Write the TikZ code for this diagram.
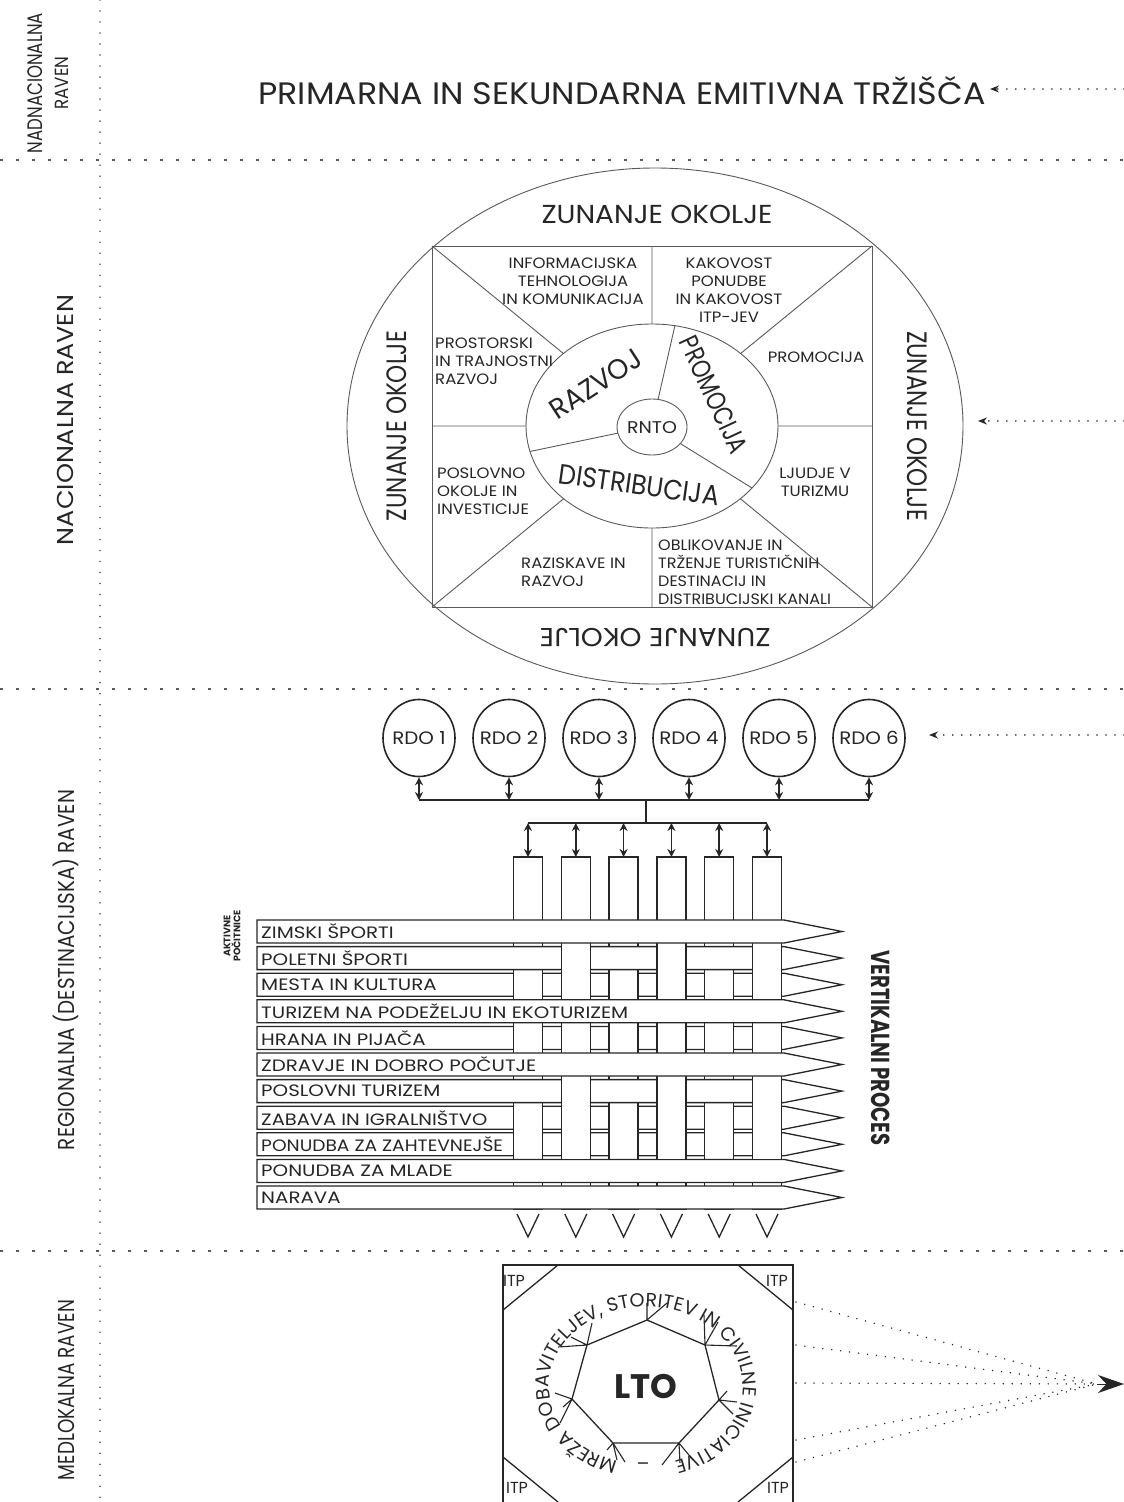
\documentclass[tikz,border=0pt]{standalone}
\usepackage{fontspec}
\setmainfont{Poppins}
\usetikzlibrary{arrows.meta,decorations.text,calc,shapes.geometric}
\definecolor{ink}{HTML}{262626}
\definecolor{gline}{HTML}{5A5A5A}
\newcommand\fsz[1]{\fontsize{#1}{#1}\selectfont}
\newcommand\fitw[2]{\resizebox{#1}{\height}{#2}}
\newcommand\ltofont{\fontsize{19}{19}\selectfont}
\tikzset{
  dotv/.style={draw=gline, line width=1.7pt, line cap=round, dash pattern=on 0.01pt off 11pt},
  dashh/.style={draw=gline, line width=1.5pt, dash pattern=on 3pt off 13pt},
  dotarr/.style={draw=ink, line width=1.6pt, line cap=round, dash pattern=on 0.01pt off 9pt},
  smalltip/.style={-{Stealth[length=9pt,width=7pt]}},
  thinln/.style={draw=gline, line width=0.9pt},
  lbl/.style={inner sep=0pt, text=ink},
  cell/.style={inner sep=0pt, text=ink, xscale=1.1, font=\fontsize{15}{18}\selectfont},
  rowbox/.style={draw=ink, fill=white, line width=1.3pt},
  colbox/.style={draw=ink, fill=white, line width=1.3pt},
  colside/.style={draw=ink, line width=1.3pt},
  rowlbl/.style={inner sep=0pt, text=ink, anchor=west, font=\fontsize{16.5}{16.5}\selectfont},
  rdo/.style={ellipse, draw=ink, line width=1.6pt, minimum width=72pt, minimum height=77pt, inner sep=0pt, text=ink, font=\fontsize{18}{18}\selectfont},
  dbl/.style={draw=ink, line width=1.5pt, {Stealth[length=8pt,width=8pt]}-{Stealth[length=8pt,width=8pt]}},
  bus/.style={draw=ink, line width=1.4pt},
  ltoln/.style={draw=ink, line width=1.3pt},
  twig/.style={draw=ink, line width=1.1pt},
  itp/.style={inner sep=0pt, text=ink, font=\fontsize{16}{16}\selectfont},
}
\newcommand\drawrow[3]{%
  \pgfmathsetmacro\rT{920+26.6*(#1-1)}%
  \draw[rowbox] (257,\rT) -- (784,\rT) -- (842,\rT+11.5) -- (784,\rT+23) -- (257,\rT+23) -- cycle;
  \node[rowlbl, xscale=#3] (row#1) at (261,\rT+11.5) {#2};}
\begin{document}
\begin{tikzpicture}[x=1pt,y=-1pt]
\useasboundingbox (0,0) rectangle (1124,1502);
\fill[white] (0,0) rectangle (1124,1502);

% ---------- level separators
\coordinate (vt) at (100,0); \coordinate (vb) at (100,1502);
\draw[dotv] (vt) -- (vb);
\foreach \k/\yy in {1/160,2/689,3/1251} {
  \coordinate (hl\k) at (0,\yy); \coordinate (hr\k) at (1124,\yy);
  \draw[dashh] (hl\k) -- (hr\k);
}

% ---------- level labels
\node[lbl, rotate=90] (lnad) at (35,83) {\fsz{21}\fitw{140pt}{NADNACIONALNA}};
\node[lbl, rotate=90] (lnadr) at (62,83) {\fsz{19}\fitw{53pt}{RAVEN}};
\node[lbl, rotate=90] (lnac) at (65,420) {\fsz{23}\fitw{250pt}{NACIONALNA RAVEN}};
\node[lbl, rotate=90] (lreg) at (66,970) {\fsz{23}\fitw{360pt}{REGIONALNA (DESTINACIJSKA) RAVEN}};
\node[lbl, rotate=90] (lmed) at (66,1390) {\fsz{23}\fitw{180pt}{MEDLOKALNA RAVEN}};

% ---------- supranational
\node[lbl, anchor=base] (title) at (622,104) {\fsz{31}\fitw{727pt}{PRIMARNA IN SEKUNDARNA EMITIVNA TRŽIŠČA}};
\coordinate (a1s) at (1124,89); \coordinate (a1e) at (990,89);
\draw[dotarr, smalltip] (a1s) -- (a1e);

% ---------- national circle
\coordinate (oc) at (655,426);
\coordinate (ic) at (652,426);
\coordinate (rTL) at (432,246); \coordinate (rTR) at (872,246);
\coordinate (rBL) at (432,607); \coordinate (rBR) at (872,607);
\draw[thinln] (oc) ellipse [x radius=308, y radius=258];
\draw[thinln] (rTL) rectangle (rBR);
\draw[thinln] (rTL) -- (ic) (rTR) -- (ic) (rBL) -- (ic) (rBR) -- (ic)
  (652,246) -- (652,607) (432,426) -- (872,426);
\draw[thinln, fill=white] (ic) ellipse [x radius=126, y radius=102];
\begin{scope}
  \clip (ic) ellipse [x radius=126, y radius=102];
  \draw[thinln] (ic) -- (686,277) (ic) -- (470,464) (ic) -- (802,519);
\end{scope}
\draw[thinln, fill=white] (652,427) ellipse [x radius=35, y radius=28];

\node[lbl] (rnto) at (652,428) {\fsz{17}\fitw{50pt}{RNTO}};
\node[lbl, rotate=33] (razvoj) at (596,384) {\fsz{28}\fitw{104pt}{RAZVOJ}};
\node[lbl, rotate=-65] (promo) at (714,395) {\fsz{27}\fitw{126pt}{PROMOCIJA}};
\node[lbl, rotate=-8] (distr) at (639,485) {\fsz{28}\fitw{162pt}{DISTRIBUCIJA}};

\node[lbl] (zt) at (657,214) {\fsz{26}\fitw{231pt}{ZUNANJE OKOLJE}};
\node[lbl, rotate=90] (zl) at (397,426) {\fsz{28}\fitw{190pt}{ZUNANJE OKOLJE}};
\node[lbl, rotate=-90] (zr) at (917,426) {\fsz{28}\fitw{190pt}{ZUNANJE OKOLJE}};
\node[lbl, rotate=180] (zb) at (655,638) {\fsz{26}\fitw{231pt}{ZUNANJE OKOLJE}};

\node[cell, align=center] (cikt) at (573,281) {INFORMACIJSKA\\TEHNOLOGIJA\\IN KOMUNIKACIJA};
\node[cell, align=center] (ckak) at (729,290) {KAKOVOST\\PONUDBE\\IN KAKOVOST\\ITP-JEV};
\node[cell, align=left, anchor=west] (cpro) at (435,361) {PROSTORSKI\\IN TRAJNOSTNI\\RAZVOJ};
\node[cell] (cprm) at (816,357) {PROMOCIJA};
\node[cell, align=left, anchor=west] (cpos) at (437,491) {POSLOVNO\\OKOLJE IN\\INVESTICIJE};
\node[cell, align=center] (clju) at (815,482) {LJUDJE V\\TURIZMU};
\node[cell, align=left, anchor=west] (craz) at (521,572) {RAZISKAVE IN\\RAZVOJ};
\node[cell, align=left, anchor=west, xscale=0.97] (cobl) at (658,572) {OBLIKOVANJE IN\\TRŽENJE TURISTIČNIH\\DESTINACIJ IN\\DISTRIBUCIJSKI KANALI};

\coordinate (a2s) at (1124,421); \coordinate (a2e) at (978,421);
\draw[dotarr, smalltip] (a2s) -- (a2e);

% ---------- regional: RDOs
\coordinate (b1) at (646,800);
\coordinate (b2) at (646,823);
\foreach \i in {1,...,6} {
  \pgfmathsetmacro\rx{419+90*(\i-1)}
  \node[rdo] (rdo\i) at (\rx,738) {\makebox[0pt]{\scalebox{1.1}[1]{RDO \i}}};
  \draw[dbl] (rdo\i.south) -- (rdo\i.south |- b1);
}
\draw[bus] (rdo1.south |- b1) -- (rdo6.south |- b1);
\draw[bus] (b1) -- (b2);
\coordinate (a3s) at (1124,735); \coordinate (a3e) at (929,735);
\draw[dotarr, smalltip] (a3s) -- (a3e);

% ---------- grid: rows under all columns
\drawrow{3}{MESTA IN KULTURA}{1.2}
\drawrow{5}{HRANA IN PIJAČA}{1.2}
\drawrow{8}{ZABAVA IN IGRALNIŠTVO}{1.18}
\drawrow{9}{PONUDBA ZA ZAHTEVNEJŠE}{1.13}

% columns
\foreach \i in {1,...,6} {
  \pgfmathsetmacro\cx{528+47.8*(\i-1)}
  \draw[colbox] (\cx-14.5,857) rectangle (\cx+14.5,1209);
  \draw[colside] (\cx-11,1214) -- (\cx,1237) -- (\cx+11,1214);
  \coordinate (col\i) at (\cx,857);
  \draw[dbl] (col\i |- b2) -- (col\i);
}
\draw[bus] (col1 |- b2) -- (col6 |- b2);

% rows over all columns
\drawrow{1}{ZIMSKI ŠPORTI}{1.2}
\drawrow{4}{TURIZEM NA PODEŽELJU IN EKOTURIZEM}{1.2}
\drawrow{6}{ZDRAVJE IN DOBRO POČUTJE}{1.2}
\drawrow{10}{PONUDBA ZA MLADE}{1.2}
\drawrow{11}{NARAVA}{1.2}
% rows over odd columns only
\drawrow{2}{POLETNI ŠPORTI}{1.2}
\drawrow{7}{POSLOVNI TURIZEM}{1.2}
\foreach \i in {2,4,6} {
  \pgfmathsetmacro\cx{528+47.8*(\i-1)}
  \fill[white] (\cx-14.5,944) rectangle (\cx+14.5,999);
  \fill[white] (\cx-14.5,1077) rectangle (\cx+14.5,1158.7);
  \draw[colside] (\cx-14.5,943.5) -- (\cx-14.5,999.5) (\cx+14.5,943.5) -- (\cx+14.5,999.5);
  \draw[colside] (\cx-14.5,1076.5) -- (\cx-14.5,1159.2) (\cx+14.5,1076.5) -- (\cx+14.5,1159.2);
}

\node[lbl, rotate=90, align=center, font=\fontsize{9.5}{10}\selectfont\bfseries] (akt) at (232,936) {AKTIVNE\\POČITNICE};
\node[lbl, rotate=-90, font=\bfseries] (vert) at (881,1048) {\fsz{26}\fitw{195pt}{VERTIKALNI PROCES}};

% ---------- local level: LTO
\coordinate (lc) at (646,1386);
\draw[ltoln] (503,1265) rectangle (793,1504);
\draw[ltoln] (503,1310) -- (558,1265) (738,1265) -- (793,1310)
  (503,1457) -- (558,1502) (793,1457) -- (738,1502);
\node[itp] (itp1) at (514,1281) {ITP};
\node[itp] (itp2) at (777,1281) {ITP};
\node[itp] (itp3) at (517,1488) {ITP};
\node[itp] (itp4) at (778,1488) {ITP};

\coordinate (h1) at (647,1320); \coordinate (h2) at (705,1345);
\coordinate (h3) at (719,1400); \coordinate (h4) at (679,1443);
\coordinate (h5) at (613,1443); \coordinate (h6) at (572,1399);
\coordinate (h7) at (587,1345);
\draw[ltoln] (h1) -- (h2) -- (h3) -- (h4) -- (h5) -- (h6) -- (h7) -- cycle;
\draw[twig] (h1) -- (647,1303) (h1) -- (667,1303);
\draw[twig] (h2) -- (704,1315) (h2) -- (718,1322) (h2) -- (737,1346);
\draw[twig] (h3) -- (737,1402) (h3) -- (733,1414) (h3) -- (727,1391);
\draw[twig] (h4) -- (662,1465) (h4) -- (680,1463) (h4) -- (693,1460);
\draw[twig] (h5) -- (625,1462) (h5) -- (617,1460) (h5) -- (607,1450);
\draw[twig] (h6) -- (560,1423) (h6) -- (563,1407) (h6) -- (555,1393);
\draw[twig] (h7) -- (558,1347) (h7) -- (571,1337) (h7) -- (592,1323);

\path[decorate, decoration={text along path, text color=ink,
  text={|\ltofont|MREŽA DOBAVITELJEV, STORITEV IN CIVILNE INICIATIVE},
  text align={fit to path}}]
  ($(lc)+(107:97 and 79)$) arc[start angle=107, end angle=433, x radius=97, y radius=79];
\node[lbl] (ltodash) at (643,1467) {\ltofont –};
\node[lbl, font=\fontsize{34}{34}\selectfont\bfseries] (lto) at (lc) {LTO};

\coordinate (lt) at (1097,1384); \coordinate (ltip) at (1124,1384);
\foreach \k/\yy in {1/1302,2/1345,3/1383,4/1440,5/1462} {
  \coordinate (lp\k) at (796,\yy);
  \draw[dotarr] (lp\k) -- (lt);
}
\draw[ink, line width=1pt, -{Stealth[length=26pt,width=18pt]}] (lt) -- (ltip);
\end{tikzpicture}
\end{document}
